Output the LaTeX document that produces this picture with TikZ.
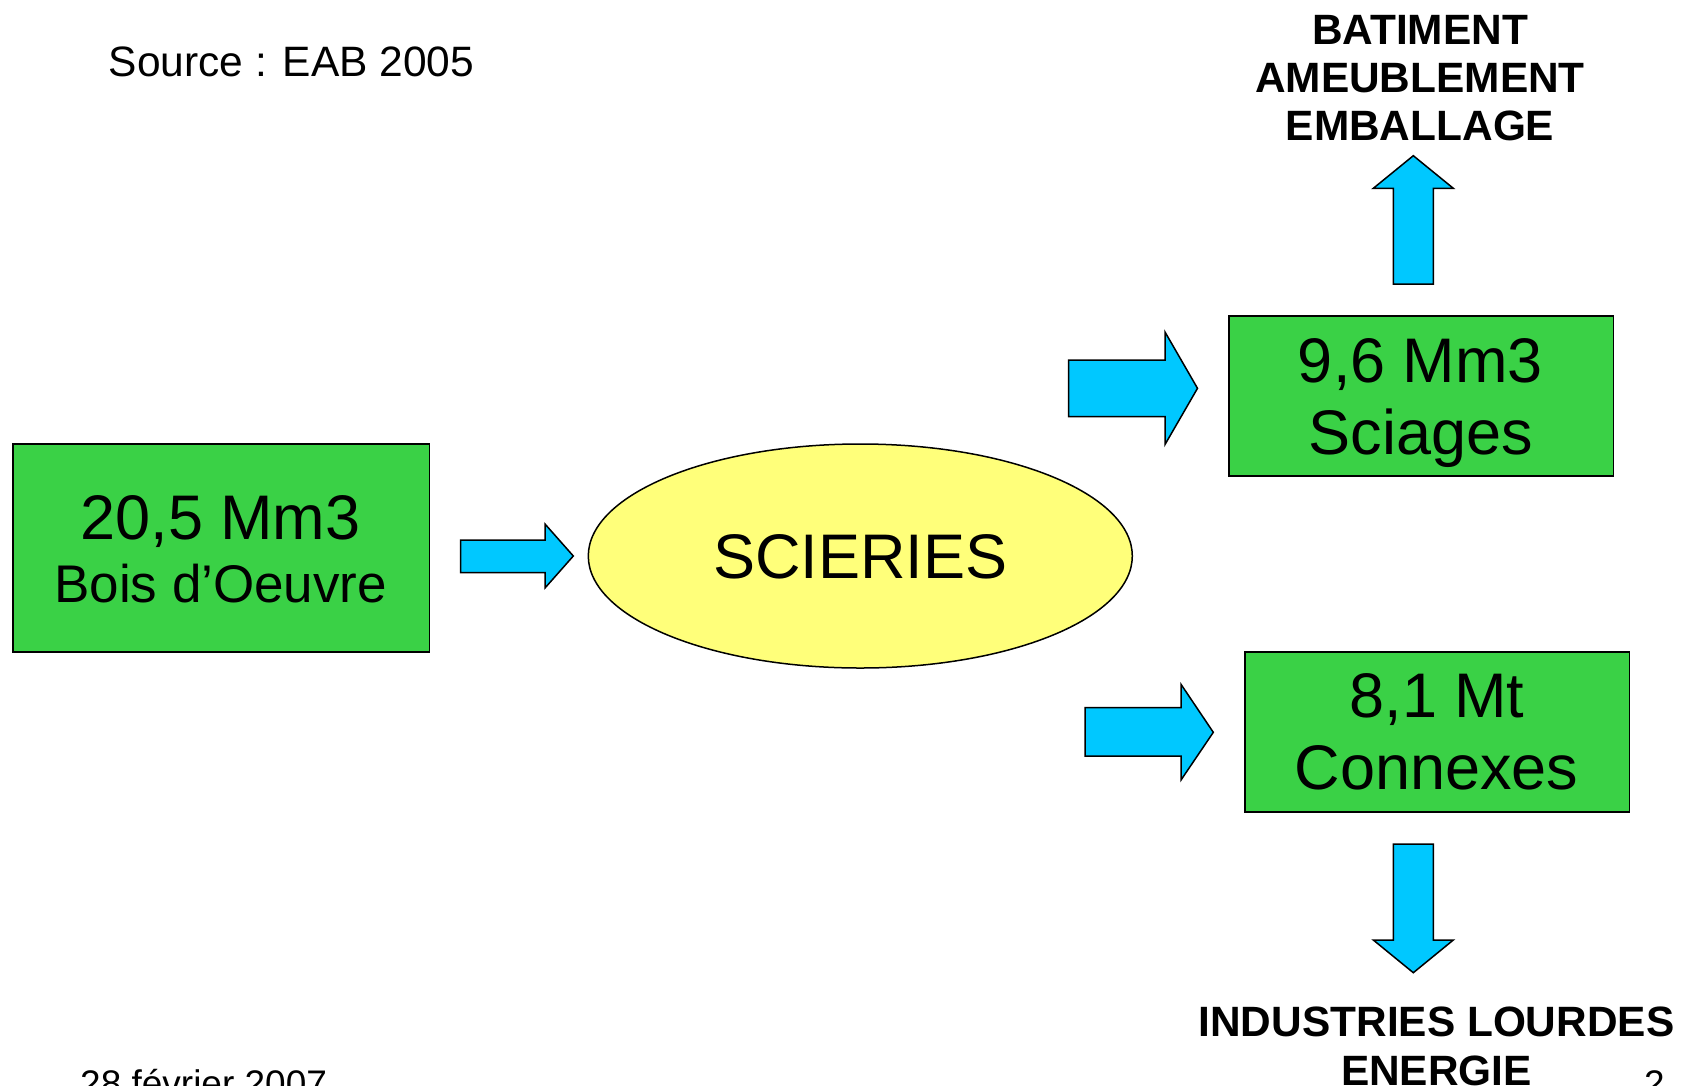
\documentclass[tikz,border=0pt]{standalone}
\usepackage{fontspec}
\setmainfont{Liberation Sans}
\usetikzlibrary{shapes.geometric}
\definecolor{boxgreen}{RGB}{58,209,70}
\definecolor{elyellow}{RGB}{255,255,122}
\definecolor{arrcyan}{RGB}{0,200,255}
\begin{document}
\begin{tikzpicture}[x=1pt,y=-1pt,
  greenbox/.style={draw=black,line width=1.5pt,fill=boxgreen,inner sep=0pt},
  blockarrow/.style={draw=black,line width=1.5pt,fill=arrcyan,line join=miter},
  txt/.style={inner sep=0pt,anchor=base},
  big/.style={font=\fontsize{63}{63}\selectfont},
  capsbold/.style={font=\fontsize{42.4}{42.4}\selectfont\bfseries}]
\clip (0,0) rectangle (1684,1085);
\fill[white] (0,0) rectangle (1684,1085);
% boxes
\node[greenbox,minimum width=416.7pt,minimum height=208pt] (bois) at (221.3,548) {};
\node[greenbox,minimum width=384.5pt,minimum height=160pt] (sciages) at (1421,395.8) {};
\node[greenbox,minimum width=384.5pt,minimum height=160pt] (connexes) at (1437,732) {};
\node[draw=black,line width=1.5pt,fill=elyellow,ellipse,inner sep=0pt,minimum width=544pt,minimum height=224pt] (scieries) at (860.3,556) {};
% texts
\node[txt,big] (t1) at (220.5,539) {20,5 Mm3};
\node[txt,font=\fontsize{53}{53}\selectfont] (t2) at (220.7,602.5) {Bois d’Oeuvre};
\node[txt,big] (t3) at (860.3,578) {SCIERIES};
\node[txt,big] (t4) at (1420.5,382) {9,6 Mm3};
\node[txt,big] (t5) at (1421,454) {Sciages};
\node[txt,big] (t6) at (1437,717.5) {8,1 Mt};
\node[txt,big] (t7) at (1436.5,789.5) {Connexes};
\node[txt,anchor=base west,font=\fontsize{42.5}{42.5}\selectfont] (src) at (108.5,76) {Source : EAB 2005};
\node[txt,capsbold] (b1) at (1420,44) {BATIMENT};
\node[txt,capsbold] (b2) at (1420,92.4) {AMEUBLEMENT};
\node[txt,capsbold] (b3) at (1420,140.7) {EMBALLAGE};
\node[txt,capsbold] (i1) at (1436.5,1036.5) {INDUSTRIES LOURDES};
\node[txt,capsbold] (i2) at (1436.5,1085) {ENERGIE};
\node[txt,anchor=base west,font=\fontsize{37}{37}\selectfont] (date) at (80,1096.5) {28 février 2007};
\node[txt,anchor=base west,font=\fontsize{37}{37}\selectfont] (page) at (1644,1096.5) {2};
% block arrows
\draw[blockarrow] (460.7,540) -- (545,540) -- (545,524) -- (573.3,556) -- (545,588) -- (545,572.7) -- (460.7,572.7) -- cycle;
\draw[blockarrow] (1068.5,360) -- (1165,360) -- (1165,332) -- (1197.5,388.3) -- (1165,444.5) -- (1165,416.5) -- (1068.5,416.5) -- cycle;
\draw[blockarrow] (1085,707.7) -- (1181,707.7) -- (1181,684.3) -- (1213.3,732.3) -- (1181,780) -- (1181,756) -- (1085,756) -- cycle;
\draw[blockarrow] (1393.3,284) -- (1393.3,188.3) -- (1373.3,188.3) -- (1413.3,155.7) -- (1453.3,188.3) -- (1433.3,188.3) -- (1433.3,284) -- cycle;
\draw[blockarrow] (1393.3,844) -- (1393.3,940) -- (1373.3,940) -- (1413.3,972.7) -- (1453.3,940) -- (1433.3,940) -- (1433.3,844) -- cycle;
\end{tikzpicture}
\end{document}
